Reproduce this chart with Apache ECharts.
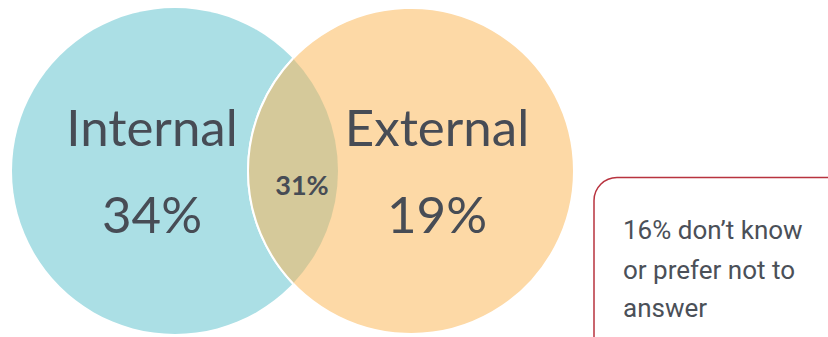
<!DOCTYPE html>
<html>
<head>
<meta charset="utf-8">
<script src="https://cdn.jsdelivr.net/npm/echarts@6/dist/echarts.min.js"></script>
<style>
html,body{margin:0;padding:0;background:#fff;}
#chart{width:828px;height:337px;}
</style>
</head>
<body>
<div id="chart"></div>
<script>
// ---- data ----
var setNames = ['Internal', 'External'];
var setValues = [34, 19];
var overlapValue = 31;
var otherValue = 16;
var otherText = ['don\u2019t know', 'or prefer not to', 'answer'];

// ---- layout / style ----
var R = 163;
var CY = 171;
var CX = [175, 411];
var fills = ['#abdfe5', '#fdd9a6'];
var overlapFill = '#d5c99a';
var textColor = '#474c55';

var chart = echarts.init(document.getElementById('chart'), null, {renderer: 'svg'});

var MX = (CX[0] + CX[1]) / 2;
var HH = Math.sqrt(R * R - Math.pow((CX[1] - CX[0]) / 2, 2));

function lensPath() {
  return 'M' + MX + ' ' + (CY - HH) +
    ' A' + R + ' ' + R + ' 0 0 1 ' + MX + ' ' + (CY + HH) +
    ' A' + R + ' ' + R + ' 0 0 1 ' + MX + ' ' + (CY - HH) + ' Z';
}

var seriesData = setNames.map(function (n, i) { return {name: n, value: setValues[i]}; });
seriesData.push({name: 'both', value: overlapValue});

var option = {
  animation: false,
  backgroundColor: '#ffffff',
  series: [{
    type: 'custom',
    coordinateSystem: 'none',
    data: seriesData,
    renderItem: function (params, api) {
      var i = params.dataIndex;
      var v = api.value(0);
      if (i < 2) {
        var tx = i === 0 ? 152 : 437;
        return {type: 'group', children: [{
          type: 'circle',
          shape: {cx: CX[i], cy: CY, r: R},
          style: {fill: fills[i], stroke: i === 1 ? '#ffffff' : null, lineWidth: i === 1 ? 2 : 0}
        }, {
          type: 'text',
          style: {text: setNames[i], x: tx, y: 101, align: 'center', verticalAlign: 'top',
            font: '400 51px Lato', fill: textColor}
        }, {
          type: 'text',
          style: {text: v + '%', x: tx, y: 188, align: 'center', verticalAlign: 'top',
            font: '400 51px Lato', fill: textColor}
        }]};
      } else {
        return {type: 'group', children: [{
          type: 'path',
          shape: {pathData: lensPath()},
          style: {fill: overlapFill, stroke: null}
        }, {
          type: 'path',
          shape: {pathData: 'M' + MX + ' ' + (CY - HH) + ' A' + R + ' ' + R + ' 0 0 0 ' + MX + ' ' + (CY + HH)},
          style: {fill: null, stroke: '#ffffff', lineWidth: 2}
        }, {
          type: 'text',
          style: {text: v + '%', x: 302, y: 171, align: 'center', verticalAlign: 'top',
            font: '700 27px Lato', fill: textColor}
        }]};
      }
    }
  }],
  graphic: [{
    type: 'rect',
    shape: {x: 594, y: 177.5, width: 320, height: 260, r: 23},
    style: {fill: '#ffffff', stroke: '#b8333f', lineWidth: 1.5}
  }, {
    type: 'text',
    style: {text: otherValue + '% ' + otherText[0], x: 623, y: 217, verticalAlign: 'top',
      font: '400 26px Roboto', fill: '#4b5058'}
  }, {
    type: 'text',
    style: {text: otherText[1], x: 623, y: 257, verticalAlign: 'top',
      font: '400 26px Roboto', fill: '#4b5058'}
  }, {
    type: 'text',
    style: {text: otherText[2], x: 623, y: 295, verticalAlign: 'top',
      font: '400 26px Roboto', fill: '#4b5058'}
  }]
};
chart.setOption(option);
</script>
</body>
</html>
